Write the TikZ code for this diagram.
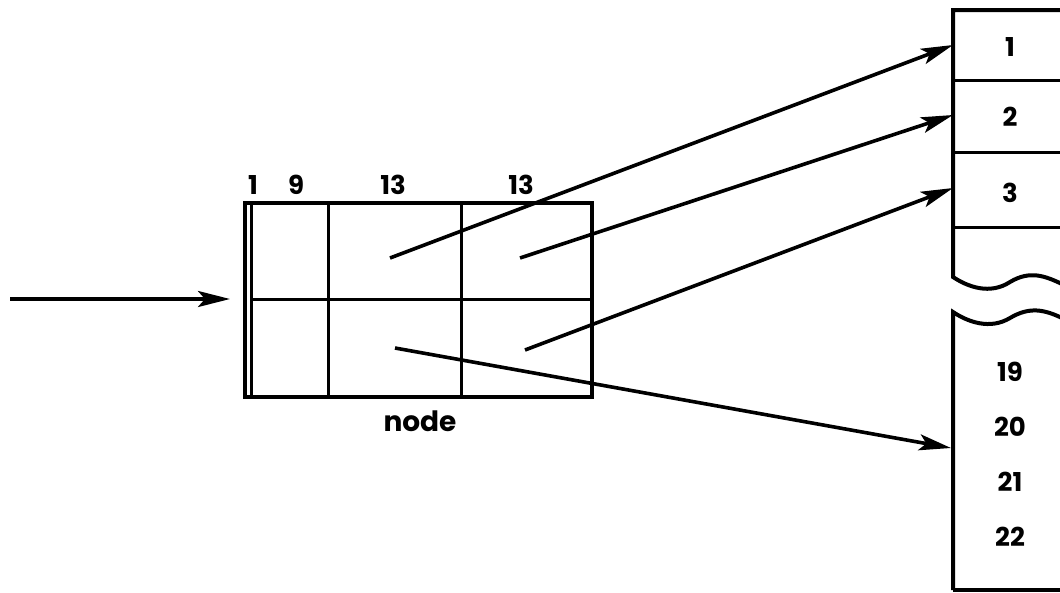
\documentclass[tikz,border=0pt]{standalone}
\usepackage{fontspec}
\setmainfont{Poppins}
\usetikzlibrary{arrows.meta}
\begin{document}
\begin{tikzpicture}[x=1pt,y=-1pt,
  edge/.style={line width=4pt},
  thin edge/.style={line width=3pt},
  ptr/.style={line width=3.6pt,-{Stealth[length=32pt,width=16pt,inset=7pt]}},
  lbl/.style={font=\fontsize{26}{26}\selectfont\bfseries,inner sep=0pt},
  lab/.style={font=\fontsize{28}{28}\selectfont\bfseries,inner sep=0pt}]
\useasboundingbox (0,0) rectangle (1060,592);
% node record
\draw[edge] (245,203) rectangle (592,397);
\draw[thin edge] (251,203) -- (251,397);
\draw[thin edge] (251,299) -- (592,299);
\draw[thin edge] (328,203) -- (328,397);
\draw[thin edge] (461,203) -- (461,397);
\node[lbl] (w1) at (253,185) {1};
\node[lbl] (w2) at (296,185) {9};
\node[lbl] (w3) at (393,185) {13};
\node[lbl] (w4) at (521,185) {13};
\node[lab] (nd) at (420,421) {node};
% anchor coordinates in the record
\coordinate (in) at (10,299);
\coordinate (ent) at (230,299);
\coordinate (p1) at (390,258);
\coordinate (p2) at (520,258);
\coordinate (p3) at (525,350);
\coordinate (p4) at (395,348);
% table on the right
\draw[edge] (1062,10) -- (953,10) -- (953,277)
  .. controls (968,287) and (990,295) .. (1010,282)
  .. controls (1030,270) and (1045,276) .. (1062,284);
\draw[edge] (953,590) -- (953,312)
  .. controls (968,322) and (990,330) .. (1010,318)
  .. controls (1030,306) and (1045,310) .. (1062,318);
\draw[edge] (953,590) -- (1062,590);
\draw[thin edge] (953,80) -- (1062,80);
\draw[thin edge] (953,152) -- (1062,152);
\draw[thin edge] (953,227) -- (1062,227);
\node[lbl] (t1) at (1010,47) {1};
\node[lbl] (t2) at (1010,117) {2};
\node[lbl] (t3) at (1010,193) {3};
\node[lbl] (t19) at (1010,372) {19};
\node[lbl] (t20) at (1010,427) {20};
\node[lbl] (t21) at (1010,482) {21};
\node[lbl] (t22) at (1010,537) {22};
\coordinate (e1) at (953,45);
\coordinate (e2) at (953,115);
\coordinate (e3) at (953,188);
\coordinate (e4) at (951,448);
% pointers
\draw[ptr] (in) -- (ent);
\draw[ptr] (p1) -- (e1);
\draw[ptr] (p2) -- (e2);
\draw[ptr] (p3) -- (e3);
\draw[ptr] (p4) -- (e4);
\end{tikzpicture}
\end{document}
